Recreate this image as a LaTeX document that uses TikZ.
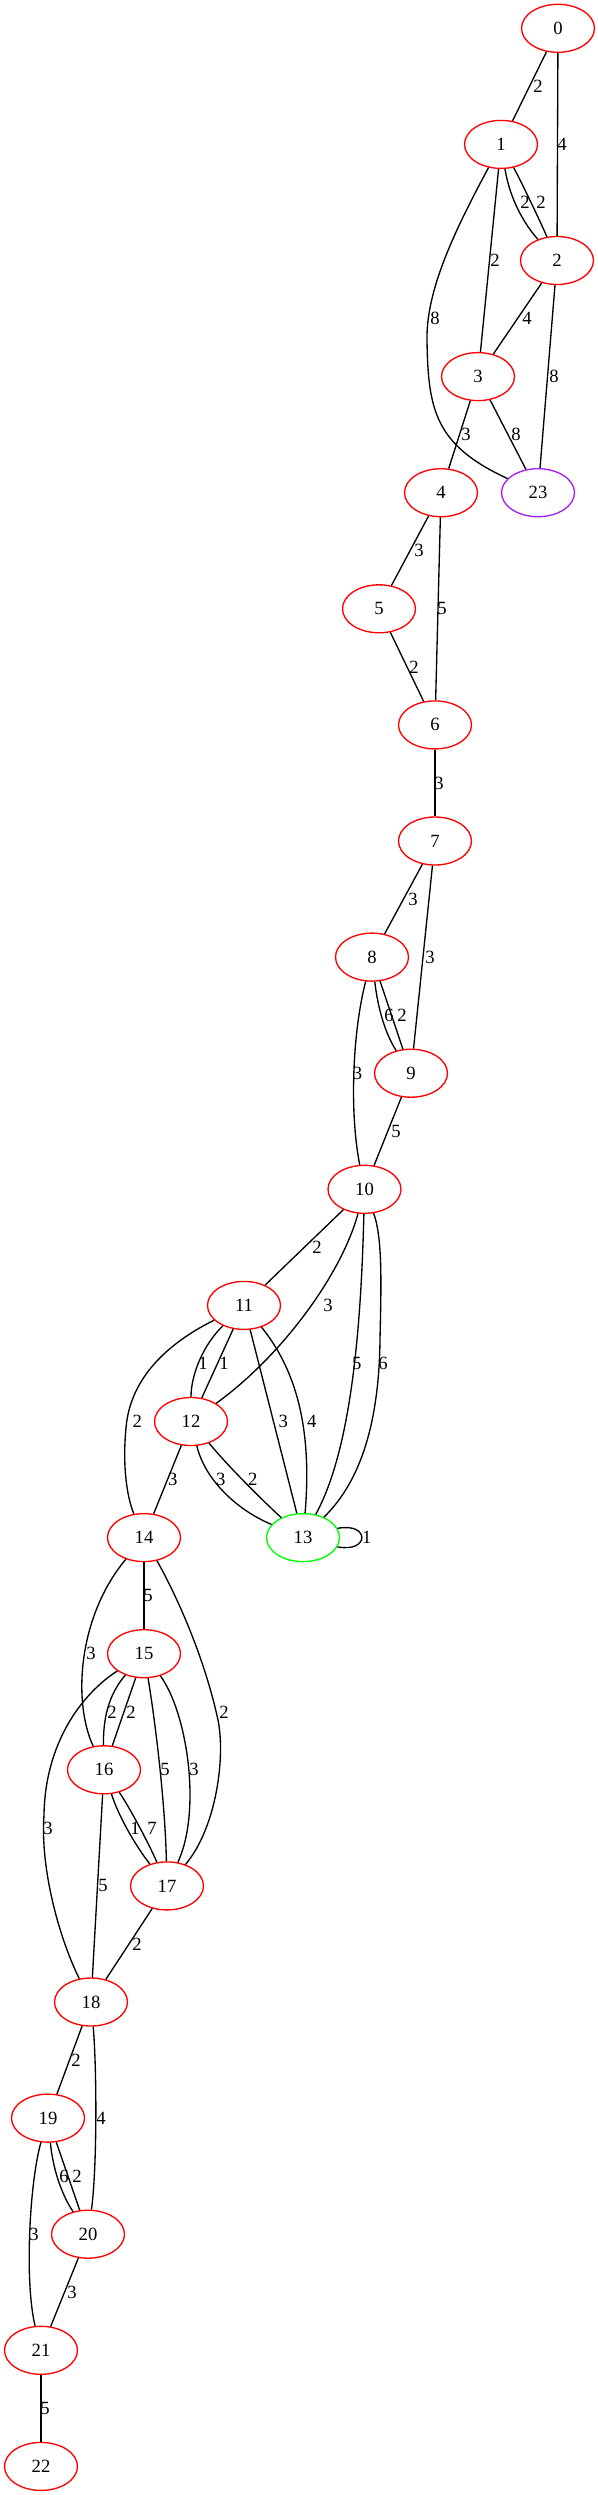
\documentclass[tikz,border=0pt]{standalone}
\usepackage{fontspec}
\setmainfont{Liberation Serif}
\usetikzlibrary{shapes.geometric}
\definecolor{gvred}{RGB}{255,0,0}
\definecolor{gvgreen}{RGB}{0,255,0}
\definecolor{gvpurple}{RGB}{160,32,240}
\begin{document}
\begin{tikzpicture}[x=0.75pt,y=-0.75pt,
  vtx/.style={ellipse,draw=gvred,line width=1pt,minimum width=54.75pt,minimum height=36pt,inner sep=0pt,font=\fontsize{14}{16}\selectfont},
  lbl/.style={inner sep=0pt,font=\fontsize{14}{16}\selectfont},
  conn/.style={draw=black,line width=1pt}]
\useasboundingbox (0,0) rectangle (597,2495);
% nodes
\node[vtx] (n0) at (558,28.3) {0};
\node[vtx] (n1) at (501,144.4) {1};
\node[vtx] (n2) at (557,260.5) {2};
\node[vtx] (n3) at (478,376.6) {3};
\node[vtx] (n4) at (441,492.7) {4};
\node[vtx,draw=gvpurple] (n23) at (538,492.7) {23};
\node[vtx] (n5) at (379,608.8) {5};
\node[vtx] (n6) at (435,724.9) {6};
\node[vtx] (n7) at (435,841) {7};
\node[vtx] (n8) at (372,957.1) {8};
\node[vtx] (n9) at (411,1073.2) {9};
\node[vtx] (n10) at (364.5,1189.3) {10};
\node[vtx] (n11) at (244,1305.4) {11};
\node[vtx] (n12) at (191,1421.5) {12};
\node[vtx,draw=gvgreen] (n13) at (303,1537.6) {13};
\node[vtx] (n14) at (144,1537.6) {14};
\node[vtx] (n15) at (144,1653.7) {15};
\node[vtx] (n16) at (104,1769.8) {16};
\node[vtx] (n17) at (167,1885.9) {17};
\node[vtx] (n18) at (91,2002) {18};
\node[vtx] (n19) at (48,2118.1) {19};
\node[vtx] (n20) at (88,2234.2) {20};
\node[vtx] (n21) at (41,2350.3) {21};
\node[vtx] (n22) at (41,2466.4) {22};
% connectors
\path[conn] (n0) -- (n1);
\path[conn] (n0) -- (n2);
\path[conn] (n1) .. controls (510,200) and (525,225) .. (n2);
\path[conn] (n1) .. controls (522,183) and (541,223) .. (n2);
\path[conn] (n1) -- (n3);
\coordinate (c123) at (427,340);
\path[conn] (n1) .. controls (455,230) and (426,290) .. (c123) .. controls (428,410) and (435,445) .. (n23);
\path[conn] (n2) -- (n3);
\path[conn] (n2) -- (n23);
\path[conn] (n3) -- (n4);
\path[conn] (n3) -- (n23);
\path[conn] (n4) -- (n5);
\path[conn] (n4) -- (n6);
\path[conn] (n5) -- (n6);
\path[conn] (n6) -- (n7);
\path[conn] (n7) -- (n8);
\path[conn] (n7) -- (n9);
\path[conn] (n8) .. controls (378,1010) and (386,1035) .. (n9);
\path[conn] (n8) -- (n9);
\path[conn] (n8) .. controls (353,1030) and (349,1110) .. (n10);
\path[conn] (n9) -- (n10);
\path[conn] (n10) -- (n11);
\path[conn] (n10) .. controls (342,1273) and (283,1355) .. (n12);
\path[conn] (n10) .. controls (361,1330) and (351,1450) .. (n13);
\coordinate (c1013) at (380,1340);
\path[conn] (n10) .. controls (383,1238) and (381,1290) .. (c1013) .. controls (379,1420) and (362,1480) .. (n13);
\path[conn] (n11) .. controls (203,1345) and (191,1375) .. (n12);
\path[conn] (n11) -- (n12);
\coordinate (c1114) at (126,1428);
\path[conn] (n11) .. controls (168,1343) and (130,1378) .. (c1114) .. controls (122,1470) and (128,1500) .. (n14);
\path[conn] (n11) -- (n13);
\path[conn] (n11) .. controls (292,1365) and (313,1420) .. (n13);
\path[conn] (n12) -- (n14);
\path[conn] (n12) .. controls (205,1480) and (237,1510) .. (n13);
\path[conn] (n12) .. controls (228,1466) and (261,1499) .. (n13);
\path[conn] (n13.15) .. controls (370,1522) and (370,1553) .. (n13.-15);
\path[conn] (n14) -- (n15);
\path[conn] (n14) .. controls (79,1615) and (72,1700) .. (n16);
\coordinate (c1417) at (218,1720);
\path[conn] (n14) .. controls (179,1600) and (205,1660) .. (c1417) .. controls (226,1760) and (215,1830) .. (n17);
\path[conn] (n15) .. controls (108,1695) and (103,1720) .. (n16);
\path[conn] (n15) -- (n16);
\path[conn] (n15) .. controls (155,1720) and (165,1800) .. (n17);
\path[conn] (n15) .. controls (187,1712) and (202,1810) .. (n17);
\coordinate (c1518) at (44,1815);
\path[conn] (n15) .. controls (80,1695) and (45,1745) .. (c1518) .. controls (40,1870) and (60,1940) .. (n18);
\path[conn] (n16) .. controls (118,1815) and (135,1845) .. (n17);
\path[conn] (n16) .. controls (130,1808) and (150,1846) .. (n17);
\path[conn] (n16) -- (n18);
\path[conn] (n17) -- (n18);
\path[conn] (n18) -- (n19);
\path[conn] (n18) .. controls (97,2070) and (97,2170) .. (n20);
\path[conn] (n19) .. controls (53,2170) and (62,2195) .. (n20);
\path[conn] (n19) -- (n20);
\path[conn] (n19) .. controls (30,2180) and (24,2280) .. (n21);
\path[conn] (n20) -- (n21);
\path[conn] (n21) -- (n22);
% edge labels
\node[lbl] (l0-1) at (538,86.4) {2};
\node[lbl] (l0-2) at (562,144.4) {4};
\node[lbl] (l1-2a) at (525,202.5) {2};
\node[lbl] (l1-2b) at (541,202.5) {2};
\node[lbl] (l1-3) at (495,260.5) {2};
\node[lbl] (l1-23) at (435,318.6) {8};
\node[lbl] (l2-3) at (527,318.6) {4};
\node[lbl] (l2-23) at (554,376.6) {8};
\node[lbl] (l3-4) at (466,434.7) {3};
\node[lbl] (l3-23) at (516,434.7) {8};
\node[lbl] (l4-5) at (419,550.8) {3};
\node[lbl] (l4-6) at (442,608.8) {5};
\node[lbl] (l5-6) at (414,666.9) {2};
\node[lbl] (l6-7) at (439,783) {3};
\node[lbl] (l7-8) at (413,899) {3};
\node[lbl] (l7-9) at (430,957.1) {3};
\node[lbl] (l8-9a) at (389,1015.2) {6};
\node[lbl] (l8-9b) at (402,1015.2) {2};
\node[lbl] (l8-10) at (357.6,1073.2) {3};
\node[lbl] (l9-10) at (396,1131.3) {5};
\node[lbl] (l10-11) at (317,1247.4) {2};
\node[lbl] (l10-12) at (328,1305.4) {3};
\node[lbl] (l10-13a) at (356.7,1363.5) {5};
\node[lbl] (l10-13b) at (383,1363.5) {6};
\node[lbl] (l11-12a) at (203,1363.5) {1};
\node[lbl] (l11-12b) at (224,1363.5) {1};
\node[lbl] (l11-14) at (137.4,1421.5) {2};
\node[lbl] (l11-13a) at (283.3,1421.5) {3};
\node[lbl] (l11-13b) at (311.7,1421.5) {4};
\node[lbl] (l12-14) at (172.7,1479.6) {3};
\node[lbl] (l12-13a) at (220.7,1479.6) {3};
\node[lbl] (l12-13b) at (252.7,1479.6) {2};
\node[lbl] (l13-13) at (366.7,1537.6) {1};
\node[lbl] (l14-15) at (148,1595.7) {5};
\node[lbl] (l14-16) at (91,1653.7) {3};
\node[lbl] (l14-17) at (224,1711.8) {2};
\node[lbl] (l15-16a) at (112,1711.8) {2};
\node[lbl] (l15-16b) at (131,1711.8) {2};
\node[lbl] (l15-17a) at (165,1769.8) {5};
\node[lbl] (l15-17b) at (194,1769.8) {3};
\node[lbl] (l15-18) at (48,1827.9) {3};
\node[lbl] (l16-17a) at (135,1827.9) {1};
\node[lbl] (l16-17b) at (152,1827.9) {7};
\node[lbl] (l16-18) at (103,1885.9) {5};
\node[lbl] (l17-18) at (137,1944) {2};
\node[lbl] (l18-19) at (76,2060) {2};
\node[lbl] (l18-20) at (101,2118.1) {4};
\node[lbl] (l19-20a) at (64,2176.2) {6};
\node[lbl] (l19-20b) at (77,2176.2) {2};
\node[lbl] (l19-21) at (34,2234.2) {3};
\node[lbl] (l20-21) at (72,2292.3) {3};
\node[lbl] (l21-22) at (45,2408.4) {5};
\end{tikzpicture}
\end{document}
